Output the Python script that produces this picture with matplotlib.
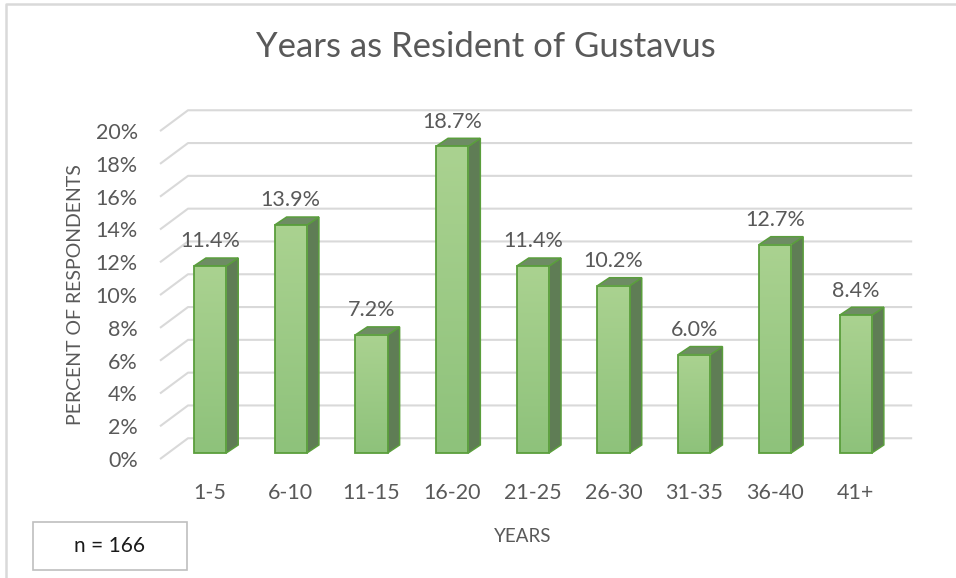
import matplotlib.pyplot as plt
import numpy as np
from matplotlib.colors import LinearSegmentedColormap
from matplotlib.lines import Line2D
from matplotlib.patches import Polygon, Rectangle

categories = ['1-5', '6-10', '11-15', '16-20', '21-25', '26-30', '31-35', '36-40', '41+']
percents = [11.4, 13.9, 7.2, 18.7, 11.4, 10.2, 6.0, 12.7, 8.4]
y_ticks = [0, 2, 4, 6, 8, 10, 12, 14, 16, 18, 20]
n_respondents = 166

plt.rcParams['font.family'] = ['Lato', 'DejaVu Sans']
GRAY = '#595959'
GRID = '#d9d9d9'
EDGE = '#5a9e3c'
SIDE = '#5f7d55'
TOP = '#6e8c64'

fig = plt.figure(figsize=(9.56, 5.78), dpi=100)
ax = fig.add_axes([0.1564, 0.1879, 0.8062, 0.6412])

# 3D look: depth offsets in data units
bar_w = 0.40
bar_dx, bar_dy = 0.149, 0.49
wall_x0, wall_x1, wall_xr = -0.62, -0.273, 8.70
front_dy, back_dy = -0.37, 0.90

for v in y_ticks:
    ax.plot([wall_x0, wall_x1, wall_xr], [v + front_dy, v + back_dy, v + back_dy],
            color=GRID, lw=1.5, zorder=1, solid_capstyle='butt')

grad = LinearSegmentedColormap.from_list('g', ['#8ec27b', '#aad290'])
x = np.arange(len(categories))
for i, v in zip(x, percents):
    l, r = i - bar_w / 2, i + bar_w / 2
    side = Polygon([(r, 0), (r + bar_dx, bar_dy), (r + bar_dx, v + bar_dy), (r, v)],
                   closed=True, facecolor=SIDE, edgecolor=EDGE, lw=1.1, zorder=2)
    top = Polygon([(l, v), (l + bar_dx, v + bar_dy), (r + bar_dx, v + bar_dy), (r, v)],
                  closed=True, facecolor=TOP, edgecolor=EDGE, lw=1.1, zorder=2)
    ax.add_patch(side)
    ax.add_patch(top)
    ax.imshow(np.linspace(0, 1, 64).reshape(-1, 1), cmap=grad, origin='lower',
              extent=[l, r, 0, v], aspect='auto', zorder=3, interpolation='bilinear')
    ax.add_patch(Rectangle((l, 0), bar_w, v, facecolor='none', edgecolor=EDGE,
                           lw=1.3, zorder=4))
    ax.text(i, v + 1.5, f'{v:.1f}%', ha='center', va='center',
            fontsize=15.5, color=GRAY, zorder=5)

ax.set_xlim(-0.75, 8.8)
ax.set_ylim(-1.0, 21.6)
ax.set_xticks(x, categories)
ax.set_yticks([v + front_dy for v in y_ticks], [f'{v}%' for v in y_ticks])
ax.tick_params(axis='both', length=0, labelsize=15.5, labelcolor=GRAY)
ax.tick_params(axis='y', pad=8.5)
ax.tick_params(axis='x', pad=10)
for s in ax.spines.values():
    s.set_visible(False)

ax.set_ylabel('PERCENT OF RESPONDENTS', fontsize=14, color=GRAY)
ax.yaxis.set_label_coords(-0.085, 0.473)
ax.set_xlabel('YEARS', fontsize=13.5, color=GRAY)
ax.xaxis.set_label_coords(0.4846, -0.158)

fig.text(486 / 956, 1 - 47 / 578, 'Years as Resident of Gustavus',
         ha='center', va='center', fontsize=25, color=GRAY)

# chart border (top and left visible)
fig.add_artist(Line2D([5.5 / 956, 5.5 / 956, 1], [0, 1 - 4 / 578, 1 - 4 / 578],
                      transform=fig.transFigure, color=GRID, lw=1.8))

# sample size box
fig.add_artist(Rectangle((33 / 956, 1 - 570 / 578), 154 / 956, 48 / 578,
                         transform=fig.transFigure, facecolor='white',
                         edgecolor='#bfbfbf', lw=1.2))
fig.text(110 / 956, 1 - 546 / 578, f'n = {n_respondents}', ha='center', va='center',
         fontsize=15, color='#1a1a1a')

fig.savefig('out.png', dpi=100)
